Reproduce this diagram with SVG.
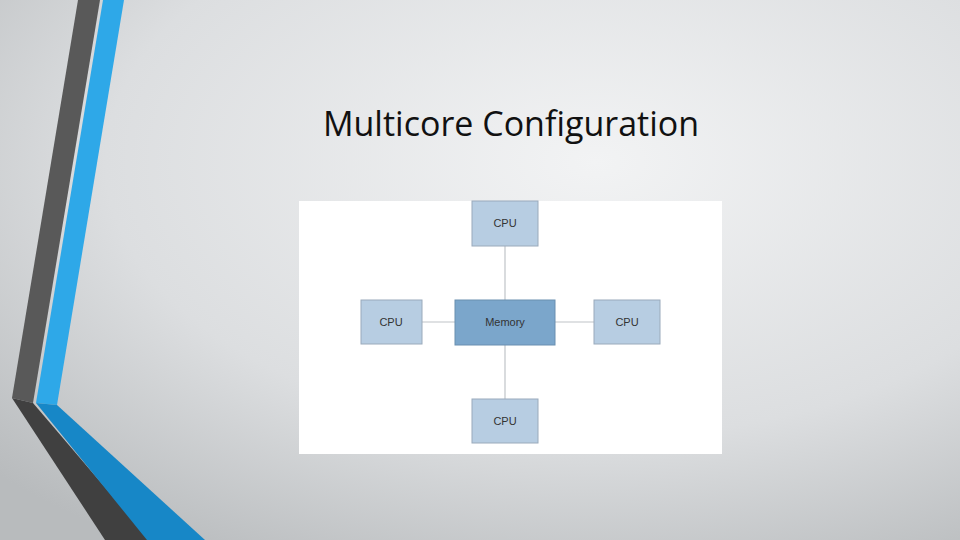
<svg xmlns="http://www.w3.org/2000/svg" width="960" height="540" viewBox="0 0 960 540">
<defs>
<radialGradient id="bg" cx="0.62" cy="0.3" r="0.85">
<stop offset="0" stop-color="#f2f3f4"/><stop offset="0.6" stop-color="#dcdee0"/><stop offset="1" stop-color="#b8bbbd"/>
</radialGradient>
<style>
.cpu{fill:#b7cde2;stroke:#9aaabb;stroke-width:1}
.mem{fill:#7ba6cb;stroke:#6a8fb0;stroke-width:1}
.lbl{font-family:"Liberation Sans",Arial,sans-serif;font-size:11px;fill:#333;text-anchor:middle}
.ln{stroke:#c0c4c8;stroke-width:1.2}
</style>
</defs>
<rect width="960" height="540" fill="url(#bg)"/>
<g id="stripes">
<polygon points="78,0 100,0 33,403 12,398" fill="#595959"/>
<polygon points="103,0 124,0 57,405 36,403" fill="#2ea8e8"/>
<polygon points="12,398 33,403 150,540 105,540" fill="#404040"/>
<polygon points="36,403 57,405 205,540 147,540" fill="#1787c7"/>
</g>
<text x="511" y="136" font-family="Open Sans, Liberation Sans, sans-serif" font-size="34" fill="#111" text-anchor="middle">Multicore Configuration</text>
<rect x="299" y="201" width="423" height="253" fill="#fff"/>
<g id="connectors">
<line class="ln" x1="505" y1="246" x2="505" y2="301"/>
<line class="ln" x1="505" y1="345" x2="505" y2="399"/>
<line class="ln" x1="422" y1="322" x2="455" y2="322"/>
<line class="ln" x1="555" y1="322" x2="594" y2="322"/>
</g>
<g id="cpu-top"><rect class="cpu" x="472" y="201" width="66" height="45"/><text class="lbl" x="505" y="227">CPU</text></g>
<g id="cpu-left"><rect class="cpu" x="361" y="300" width="61" height="44"/><text class="lbl" x="391" y="326">CPU</text></g>
<g id="memory"><rect class="mem" x="455" y="300" width="100" height="45"/><text class="lbl" x="505" y="326">Memory</text></g>
<g id="cpu-right"><rect class="cpu" x="594" y="300" width="66" height="44"/><text class="lbl" x="627" y="326">CPU</text></g>
<g id="cpu-bottom"><rect class="cpu" x="472" y="399" width="66" height="44"/><text class="lbl" x="505" y="425">CPU</text></g>
</svg>
